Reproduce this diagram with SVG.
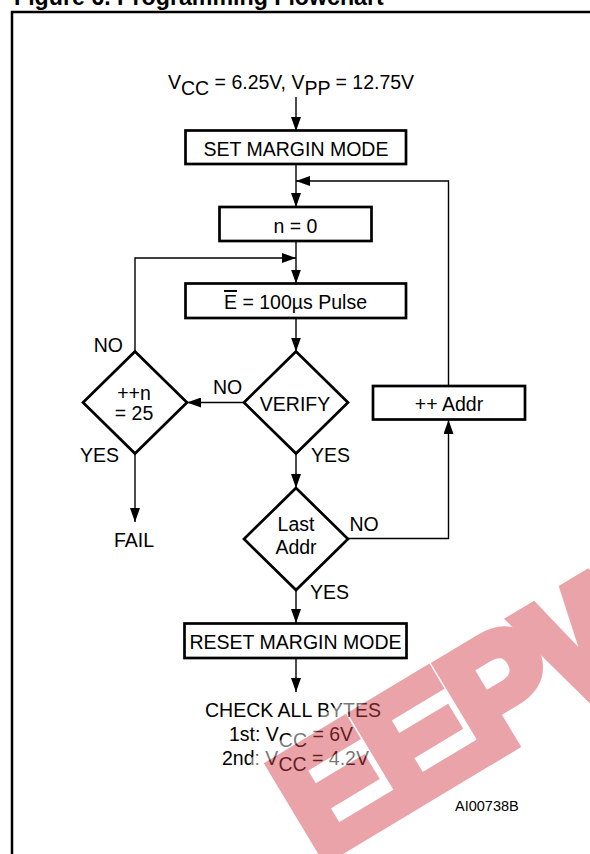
<svg xmlns="http://www.w3.org/2000/svg" width="590" height="854" viewBox="0 0 590 854">
<defs>
<marker id="arr" markerUnits="userSpaceOnUse" markerWidth="14" markerHeight="10" refX="14" refY="5" orient="auto">
<path d="M0,0 L14,5 L0,10 z" fill="#000"/>
</marker>
<style>
.t{font-family:"Liberation Sans",Arial,sans-serif;font-size:19.5px;fill:#000}
.m{text-anchor:middle}
.e{text-anchor:end}
.box{fill:#fff;stroke:#000;stroke-width:2.7}
.c{fill:none;stroke:#000;stroke-width:1.4;marker-end:url(#arr)}
.wm{font-family:"Liberation Sans",Arial,sans-serif;font-weight:bold;font-size:155px;letter-spacing:-6px;stroke-linejoin:miter}
</style>
</defs>
<rect width="590" height="854" fill="#fff"/>
<text x="14" y="5" style="font-family:'Liberation Sans',Arial,sans-serif;font-weight:bold;font-size:23.2px">Figure 6. Programming Flowchart</text>
<rect x="12" y="12" width="600" height="900" fill="none" stroke="#000" stroke-width="2.5"/>

<g id="connectors">
<path class="c" d="M296,97 V131"/>
<path class="c" d="M296,164.5 V207"/>
<path class="c" d="M448.5,386 V181 H296"/>
<path class="c" d="M296,241 V283.5"/>
<path class="c" d="M135,351.5 V258 H296"/>
<path class="c" d="M296,318 V351.5"/>
<path class="c" d="M244,402.5 H187"/>
<path class="c" d="M135,453.5 V522"/>
<path class="c" d="M296,453.5 V488"/>
<path class="c" d="M348,538.5 H448.5 V420"/>
<path class="c" d="M296,590 V623"/>
<path class="c" d="M296,658.5 V692"/>
</g>

<g id="start">
<text class="t" x="168" y="88.5">V<tspan dy="6">CC</tspan><tspan dy="-6"> = 6.25V, V</tspan><tspan dy="6">PP</tspan><tspan dy="-6"> = 12.75V</tspan></text>
</g>
<g id="set-margin">
<rect class="box" x="185.5" y="130.5" width="220.5" height="33.5"/>
<text class="t m" x="296" y="156">SET MARGIN MODE</text>
</g>
<g id="n0">
<rect class="box" x="219.5" y="207" width="152" height="34"/>
<text class="t m" x="295.5" y="232.7">n = 0</text>
</g>
<g id="pulse">
<rect class="box" x="185.5" y="283.5" width="220.5" height="34.5"/>
<text class="t m" x="295.5" y="309"><tspan text-decoration="overline">E</tspan> = 100µs Pulse</text>
</g>
<g id="verify">
<polygon class="box" points="296,351.5 348,402.5 296,453.5 244,402.5"/>
<text class="t m" x="295" y="410.7">VERIFY</text>
</g>
<g id="incn">
<polygon class="box" points="135,351.5 187,402.5 135,453.5 83,402.5"/>
<text class="t m" x="134" y="400">++n</text>
<text class="t m" x="134" y="420">= 25</text>
</g>
<g id="last-addr">
<polygon class="box" points="296,488 348,539 296,590 244,539"/>
<text class="t m" x="296" y="530.5">Last</text>
<text class="t m" x="296" y="553.5">Addr</text>
</g>
<g id="inc-addr">
<rect class="box" x="373" y="386" width="152" height="33.5"/>
<text class="t m" x="449" y="410.7">++ Addr</text>
</g>
<g id="reset-margin">
<rect class="box" x="184.5" y="623.5" width="222" height="34.5"/>
<text class="t m" x="295.5" y="649">RESET MARGIN MODE</text>
</g>
<g id="fail">
<text class="t m" x="134" y="547">FAIL</text>
</g>
<g id="check">
<text class="t" x="205" y="716.7">CHECK ALL BYTES</text>
<text class="t" x="229" y="741">1st: V<tspan dy="6">CC</tspan><tspan dy="-6"> = 6V</tspan></text>
<text class="t" x="222" y="764.5">2nd: V<tspan dy="6">CC</tspan><tspan dy="-6"> = 4.2V</tspan></text>
</g>
<g id="labels">
<text class="t" x="213" y="394">NO</text>
<text class="t e" x="123" y="351.5">NO</text>
<text class="t e" x="119" y="461.5">YES</text>
<text class="t" x="311" y="461.5">YES</text>
<text class="t" x="349.5" y="530.5">NO</text>
<text class="t" x="310" y="598.5">YES</text>
</g>
<text x="455" y="810.7" style="font-family:'Liberation Sans',Arial,sans-serif;font-size:14.5px">AI00738B</text>

<g id="watermark" opacity="0.47" transform="translate(318,862) rotate(-31)">
<text class="wm" x="0" y="0" fill="#fff" stroke="#fff" stroke-width="34">EEPW</text>
<text class="wm" x="0" y="0" fill="#d3404a" stroke="#d3404a" stroke-width="12">EEPW</text>
</g>
</svg>
